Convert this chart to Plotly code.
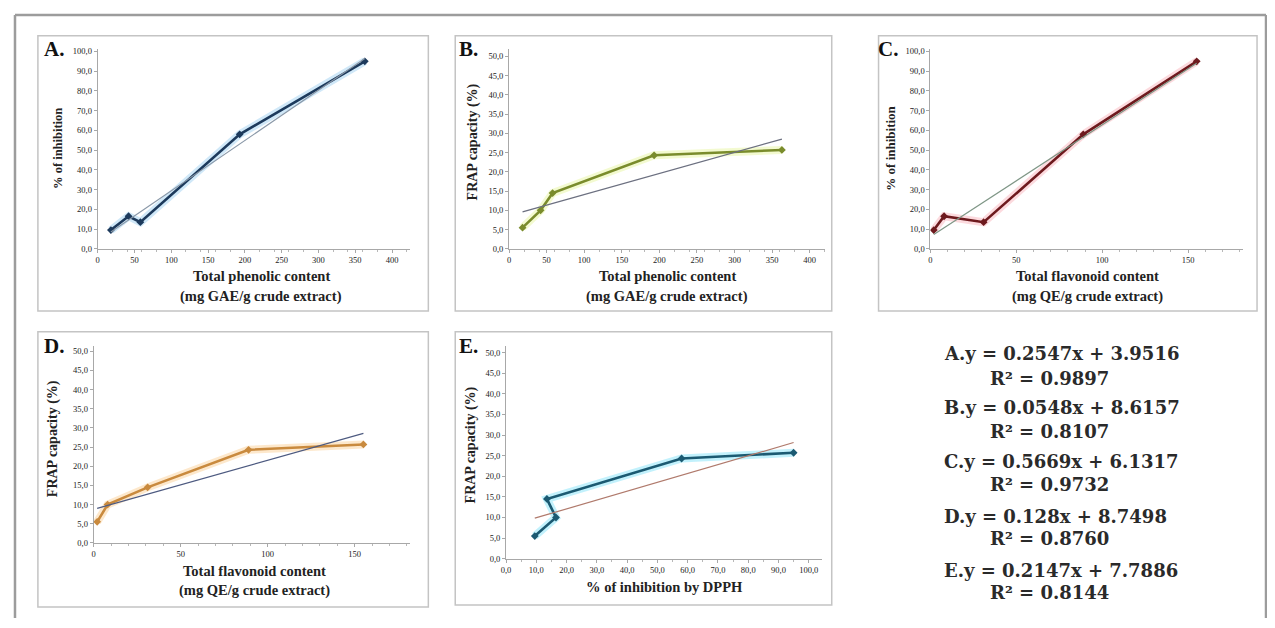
import plotly.graph_objects as go

# ---------------- data ----------------
phenolic = [18, 42, 58, 193, 363]          # mg GAE/g crude extract
flavonoid = [2, 8, 31, 89, 155]            # mg QE/g crude extract
dpph_inhibition = [9.5, 16.5, 13.5, 58, 95]  # % of inhibition
frap_capacity = [5.5, 10, 14.5, 24.3, 25.7]  # FRAP capacity (%)

panel_letters = ["A.", "B.", "C.", "D.", "E."]
slopes = [0.2547, 0.0548, 0.5669, 0.128, 0.2147]
intercepts = [3.9516, 8.6157, 6.1317, 8.7498, 7.7886]
r_squared = ["0.9897", "0.8107", "0.9732", "0.8760", "0.8144"]
equation_texts = ["A.y = 0.2547x + 3.9516", "B.y = 0.0548x + 8.6157",
                  "C.y = 0.5669x + 6.1317", "D.y = 0.128x + 8.7498",
                  "E.y = 0.2147x + 7.7886"]

ticks_100 = [0, 10, 20, 30, 40, 50, 60, 70, 80, 90, 100]
ticks_50 = [0, 5, 10, 15, 20, 25, 30, 35, 40, 45, 50]
ticks_phen = [0, 50, 100, 150, 200, 250, 300, 350, 400]
ticks_flav = [0, 50, 100, 150]

# page body has an 8px margin; keep the page inside the 1275x628 window
OX, OY = 8, 8
W, H = 1275 - 2 * OX, 628 - 2 * OY - 2


def px(x):
    return (x - OX) / W


def py(y):
    return 1 - (y - OY) / H


def fmt(v):
    return f"{v:.1f}".replace(".", ",")


SERIF = "Liberation Serif"

panels = [
    dict(x=phenolic, y=dpph_inhibition, line="#1d3a5c", glow="rgba(120,190,235,0.35)",
         trend="#8a98a8", box=(33, 33, 425, 312), xd=(93, 407), yd=(47, 249),
         xr=(0, 425), yr=(0, 101), xt=ticks_phen, yt=ticks_100, xfmt=str,
         ytitle="% of inhibition", ysize=12.5, ytpos=(53, 147),
         xtitle=["Total phenolic content", "(mg GAE/g crude extract)"], xtpos=(257, 277, 297),
         letter=(37, 47)),
    dict(x=phenolic, y=frap_capacity, line="#7a8c2c", glow="rgba(220,240,120,0.35)",
         trend="#6c7080", box=(452, 33, 830, 312), xd=(506, 823), yd=(47, 249),
         xr=(0, 420), yr=(0, 51.8), xt=ticks_phen, yt=ticks_50, xfmt=str,
         ytitle="FRAP capacity (%)", ysize=14, ytpos=(470, 141),
         xtitle=["Total phenolic content", "(mg GAE/g crude extract)"], xtpos=(665, 277, 297),
         letter=(454, 47)),
    dict(x=flavonoid, y=dpph_inhibition, line="#6e1a1e", glow="rgba(245,150,160,0.35)",
         trend="#7f9686", box=(877, 33, 1257, 312), xd=(929, 1243), yd=(47, 249),
         xr=(0, 182), yr=(0, 101), xt=ticks_flav, yt=ticks_100, xfmt=str,
         ytitle="% of inhibition", ysize=13, ytpos=(889, 147),
         xtitle=["Total flavonoid content", "(mg QE/g crude extract)"], xtpos=(1087, 277, 297),
         letter=(874, 47)),
    dict(x=flavonoid, y=frap_capacity, line="#c98a3e", glow="rgba(250,190,110,0.35)",
         trend="#4d5a80", box=(33, 333, 425, 612), xd=(89, 407), yd=(347, 547),
         xr=(0, 182), yr=(0, 51.5), xt=ticks_flav, yt=ticks_50, xfmt=str,
         ytitle="FRAP capacity (%)", ysize=14, ytpos=(48, 441),
         xtitle=["Total flavonoid content", "(mg QE/g crude extract)"], xtpos=(250, 575, 595),
         letter=(37, 347)),
    dict(x=dpph_inhibition, y=frap_capacity, line="#1b5a72", glow="rgba(80,215,245,0.35)",
         trend="#b07a6c", box=(452, 333, 830, 610), xd=(503, 820), yd=(347, 563),
         xr=(0, 104.3), yr=(0, 51.7), xt=ticks_100, yt=ticks_50, xfmt=fmt,
         ytitle="FRAP capacity (%)", ysize=14, ytpos=(468, 448),
         xtitle=["% of inhibition by DPPH"], xtpos=(662, 592),
         letter=(454, 347)),
]

fig = go.Figure()
shapes = []
annotations = []

# outer frame (left, top, right sides; bottom runs off the page)
for (xa0, ya0, xa1, ya1) in [(10, 12, 10, 640), (10, 12, 1266, 12), (1266, 12, 1266, 640)]:
    shapes.append(dict(type="line", xref="paper", yref="paper", x0=px(xa0), x1=px(xa1),
                       y0=py(ya0), y1=py(ya1), line=dict(color="#9c9c9c", width=2.5),
                       layer="below"))

for i, p in enumerate(panels):
    n = "" if i == 0 else str(i + 1)
    xa, ya = "x" + n, "y" + n
    x0b, y0b, x1b, y1b = p["box"]
    shapes.append(dict(type="rect", xref="paper", yref="paper", x0=px(x0b), x1=px(x1b),
                       y0=py(y1b), y1=py(y0b), line=dict(color="#c4c4c4", width=1.5),
                       fillcolor="white", layer="below"))

    # trend line from regression equation over data range
    xmin, xmax = min(p["x"]), max(p["x"])
    tx = [xmin, xmax]
    ty = [slopes[i] * v + intercepts[i] for v in tx]

    # glow
    fig.add_trace(go.Scatter(x=p["x"], y=p["y"], mode="lines", xaxis=xa, yaxis=ya,
                             line=dict(color=p["glow"], width=8), hoverinfo="skip",
                             showlegend=False))
    fig.add_trace(go.Scatter(x=p["x"], y=p["y"], mode="lines+markers", xaxis=xa, yaxis=ya,
                             line=dict(color=p["line"], width=2.6),
                             marker=dict(color=p["line"], size=6, symbol="diamond"),
                             showlegend=False))
    fig.add_trace(go.Scatter(x=tx, y=ty, mode="lines", xaxis=xa, yaxis=ya,
                             line=dict(color=p["trend"], width=1.2), showlegend=False))

    tickfont = dict(family=SERIF, size=8.5, color="#222")
    fig.update_layout(**{
        "xaxis" + n: dict(domain=[px(p["xd"][0]), px(p["xd"][1])], range=list(p["xr"]),
                          anchor=ya, tickvals=p["xt"], ticktext=[p["xfmt"](v) for v in p["xt"]],
                          showgrid=False, zeroline=False, showline=True, linecolor="#a8a8a8",
                          linewidth=1, ticks="outside", ticklen=3, tickcolor="#a8a8a8",
                          minor=dict(ticks="outside", ticklen=2, tickcolor="#b8b8b8",
                                     nticks=5),
                          tickfont=tickfont, fixedrange=True),
        "yaxis" + n: dict(domain=[py(p["yd"][1]), py(p["yd"][0])], range=list(p["yr"]),
                          anchor=xa, tickvals=p["yt"], ticktext=[fmt(v) for v in p["yt"]],
                          showgrid=False, zeroline=False, showline=True, linecolor="#a8a8a8",
                          linewidth=1, ticks="outside", ticklen=3, tickcolor="#a8a8a8",
                          tickfont=tickfont, fixedrange=True),
    })

    # panel letter
    annotations.append(dict(x=px(p["letter"][0]), y=py(p["letter"][1]), xref="paper",
                            yref="paper", text="<b>" + panel_letters[i] + "</b>",
                            showarrow=False, xanchor="left", yanchor="middle",
                            font=dict(family=SERIF, size=21, color="#111")))
    # y title
    annotations.append(dict(x=px(p["ytpos"][0]), y=py(p["ytpos"][1]), xref="paper",
                            yref="paper", text="<b>" + p["ytitle"] + "</b>", textangle=-90,
                            showarrow=False, xanchor="center", yanchor="middle",
                            font=dict(family=SERIF, size=p["ysize"], color="#222")))
    # x title lines
    for j, t in enumerate(p["xtitle"]):
        annotations.append(dict(x=px(p["xtpos"][0]), y=py(p["xtpos"][1 + j]), xref="paper",
                                yref="paper", text="<b>" + t + "</b>", showarrow=False,
                                xanchor="center", yanchor="middle",
                                font=dict(family=SERIF, size=14.5, color="#222")))

# equations
EQFONT = "DejaVu Serif"
eq_y = [355, 410, 464, 520, 575]
r2_y = [380, 434, 488, 543, 597]
for i in range(5):
    annotations.append(dict(x=px(941), y=py(eq_y[i]), xref="paper", yref="paper",
                            text="<b>" + equation_texts[i] + "</b>", showarrow=False,
                            xanchor="left", yanchor="middle",
                            font=dict(family=EQFONT, size=18, color="#2a2a2a")))
    annotations.append(dict(x=px(987), y=py(r2_y[i]), xref="paper", yref="paper",
                            text="<b>R² = " + r_squared[i] + "</b>", showarrow=False,
                            xanchor="left", yanchor="middle",
                            font=dict(family=EQFONT, size=18, color="#2a2a2a")))

fig.update_layout(width=W, height=H, margin=dict(l=0, r=0, t=0, b=0),
                  paper_bgcolor="white", plot_bgcolor="rgba(0,0,0,0)",
                  shapes=shapes, annotations=annotations, showlegend=False)

fig.write_html("out.html")
